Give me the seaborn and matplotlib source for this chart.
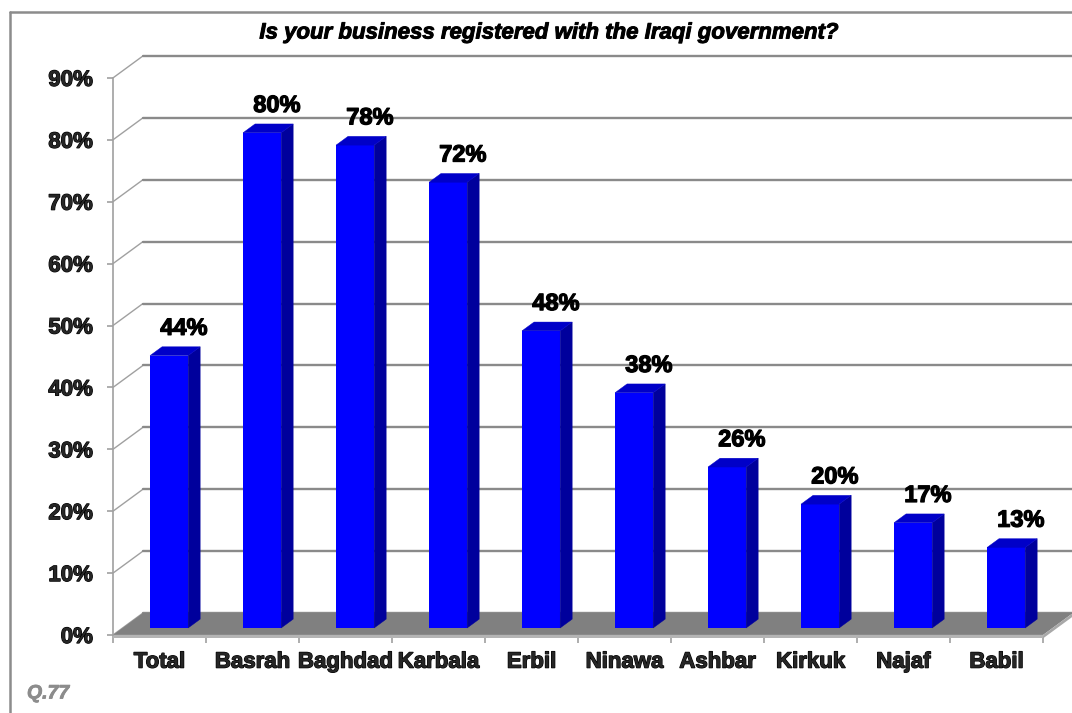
import matplotlib
matplotlib.use("Agg")
import matplotlib.pyplot as plt
from matplotlib.patches import Polygon
from matplotlib.lines import Line2D
import matplotlib.patheffects as pe
import seaborn as sns
import pandas as pd

# Survey data
regions = ["Total", "Basrah", "Baghdad", "Karbala", "Erbil",
           "Ninawa", "Ashbar", "Kirkuk", "Najaf", "Babil"]
registered_pct = [44, 80, 78, 72, 48, 38, 26, 20, 17, 13]
y_ticks = [0, 10, 20, 30, 40, 50, 60, 70, 80, 90]
y_tick_labels = [f"{t}%" for t in y_ticks]
title_text = "Is your business registered with the Iraqi government?"
question_ref = "Q.77"

sns.set_theme(style="white")
plt.rcParams["font.family"] = ["Liberation Sans", "DejaVu Sans"]

W, H = 1072, 713
fig = plt.figure(figsize=(W / 100, H / 100), dpi=100)

# axes in pixel terms: front x-axis at y=635, back top grid at y=56
left_px, right_px, bottom_px, top_px = 113, 1072, 635, 56
ax = fig.add_axes([left_px / W, 1 - bottom_px / H,
                   (right_px - left_px) / W, (bottom_px - top_px) / H])

cat_px = 93.0          # pixels per category
pct_px = 6.19          # pixels per percent
DX = 30 / cat_px       # full depth, x (data units)
DY = 22 / pct_px       # full depth, y (data units)
xmin = -0.5
xmax = xmin + (right_px - left_px) / cat_px
ymax = (bottom_px - top_px) / pct_px

grid_col = "#8a8a8a"
heavy = [pe.withStroke(linewidth=0.9, foreground="#000000")]

df = pd.DataFrame({"region": regions, "pct": registered_pct})
sns.barplot(data=df, x="region", y="pct", color="#0000FF", saturation=1,
            width=0.41, ax=ax, zorder=4, linewidth=0)

# back wall grid lines and left wall diagonals
for t in y_ticks:
    ax.plot([xmin, xmin + DX], [t, t + DY], color="#a0a0a0", lw=1.0,
            zorder=1, solid_capstyle="butt")
    ax.plot([xmin + DX, xmax + 0.2], [t + DY, t + DY], color=grid_col,
            lw=1.7, zorder=1, clip_on=False)

# floor
floor_t = 0.55
ax.add_patch(Polygon([(xmin, 0), (9.5, 0), (9.5 + DX, DY), (xmin + DX, DY)],
                     closed=True, facecolor="#808080", edgecolor="none",
                     zorder=2))
ax.add_patch(Polygon([(xmin, 0), (9.5, 0), (9.5, -floor_t), (xmin, -floor_t)],
                     closed=True, facecolor="#b4b4b4", edgecolor="none",
                     zorder=2, clip_on=False))
ax.add_patch(Polygon([(9.5, 0), (9.5 + DX, DY), (9.5 + DX, DY - floor_t),
                      (9.5, -floor_t)],
                     closed=True, facecolor="#a8a8a8", edgecolor="none",
                     zorder=2, clip_on=False))

# give each bar depth: front face sits 0.32 deep, bar is 0.4 deep
f0, fd = 0.32, 0.40
sdx, sdy = fd * DX, fd * DY
for patch, v in zip(ax.patches[:len(regions)], registered_pct):
    patch.set_x(patch.get_x() + f0 * DX)
    patch.set_y(f0 * DY)
    x0 = patch.get_x()
    x1 = x0 + patch.get_width()
    y0 = patch.get_y()
    y1 = y0 + v
    ax.add_patch(Polygon([(x1, y0), (x1 + sdx, y0 + sdy), (x1 + sdx, y1 + sdy),
                          (x1, y1)], closed=True, facecolor="#00009C",
                         edgecolor="#00009C", lw=0.3, zorder=4))
    ax.add_patch(Polygon([(x0, y1), (x1, y1), (x1 + sdx, y1 + sdy),
                          (x0 + sdx, y1 + sdy)], closed=True,
                         facecolor="#0000C8", edgecolor="#0000C8", lw=0.3,
                         zorder=4))
    ax.annotate(f"{v}%", xy=((x0 + x1) / 2 + sdx, y1 + sdy),
                xytext=(2, 5), textcoords="offset points",
                ha="center", va="bottom", fontsize=17, fontweight="bold",
                color="#000000", zorder=6, path_effects=heavy)

ax.set_xlim(xmin, xmax)
ax.set_ylim(0, ymax)

# axes: left spine is the front value axis, bottom spine the category axis
for side in ("top", "right"):
    ax.spines[side].set_visible(False)
ax.spines["left"].set_bounds(0, 90)
ax.spines["left"].set_color("#a0a0a0")
ax.spines["left"].set_linewidth(1.2)
ax.spines["bottom"].set_bounds(xmin, 9.5)
ax.spines["bottom"].set_color("#b4b4b4")
ax.spines["bottom"].set_linewidth(1.0)
ax.spines["left"].set_zorder(3)

ax.set_yticks(y_ticks)
ax.set_yticklabels(y_tick_labels, fontsize=16, fontweight="bold")
ax.tick_params(axis="y", left=True, length=4.5, width=1.2, color="#a0a0a0",
               pad=10, direction="out")

ax.set_xticks(range(len(regions)))
ax.set_xticklabels(regions, fontsize=16, fontweight="bold")
ax.set_xticks([xmin + k for k in range(len(regions) + 1)], minor=True)
ax.tick_params(axis="x", which="major", bottom=False, length=0, pad=12)
ax.tick_params(axis="x", which="minor", bottom=True, length=6, width=1.2,
               color="#a0a0a0", direction="out")
for lab in ax.get_xticklabels() + ax.get_yticklabels():
    lab.set_path_effects(heavy)
ax.set_xlabel("")
ax.set_ylabel("")
ax.set_facecolor("none")

# outer frame
fig.add_artist(Line2D([10 / W, 10 / W], [0, 1 - 12 / H], color="#8c8c8c",
                      lw=1.8))
fig.add_artist(Line2D([10 / W, 1], [1 - 12 / H, 1 - 12 / H], color="#8c8c8c",
                      lw=1.8))

fig.text(549 / W, 1 - 33 / H, title_text, ha="center", va="center",
         fontsize=16, fontweight="bold", fontstyle="italic", color="#000000",
         path_effects=[pe.withStroke(linewidth=0.7, foreground="#000000")])
fig.text(27 / W, 1 - 694 / H, question_ref, ha="left", va="center",
         fontsize=14, fontweight="bold", fontstyle="italic", color="#8c8c8c",
         path_effects=[pe.withStroke(linewidth=0.6, foreground="#8c8c8c")])

fig.savefig("out.png", dpi=100, facecolor="white")
